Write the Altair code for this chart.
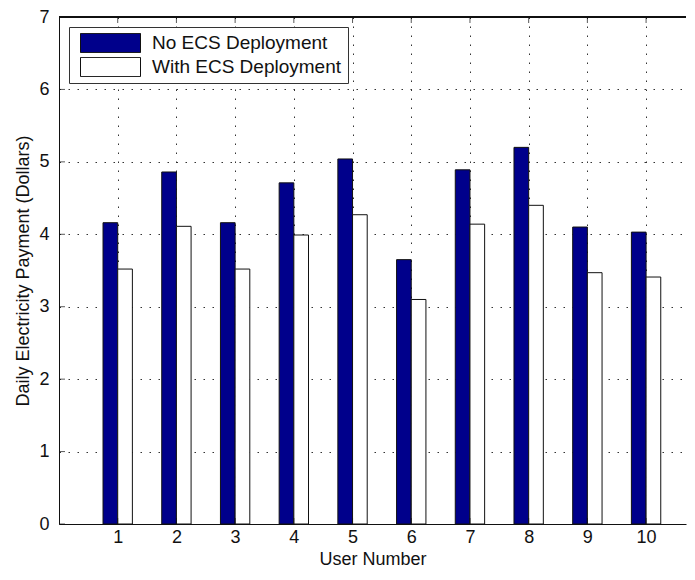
import altair as alt
import pandas as pd

users = [1, 2, 3, 4, 5, 6, 7, 8, 9, 10]
no_ecs = [4.16, 4.86, 4.16, 4.71, 5.04, 3.65, 4.89, 5.20, 4.10, 4.03]
with_ecs = [3.52, 4.11, 3.52, 3.99, 4.27, 3.10, 4.14, 4.40, 3.47, 3.41]
series_names = ["No ECS Deployment", "With ECS Deployment"]
y_ticks = [0, 1, 2, 3, 4, 5, 6, 7]

rows = []
for u, a, b in zip(users, no_ecs, with_ecs):
    rows.append({"user": u, "series": series_names[0], "value": a})
    rows.append({"user": u, "series": series_names[1], "value": b})
df = pd.DataFrame(rows)

FONT = "Liberation Sans"
BAR_W = 0.25
xscale = alt.Scale(domain=[0, 10.68], nice=False, zero=False)
yscale = alt.Scale(domain=[0, 7], nice=False)

bars = alt.Chart(df).mark_bar(stroke="#111", strokeWidth=1).transform_calculate(
    x0=f"datum.user + (datum.series == '{series_names[0]}' ? -{BAR_W} : 0)",
    x1=f"datum.user + (datum.series == '{series_names[0]}' ? 0 : {BAR_W})",
).encode(
    x=alt.X("x0:Q", scale=xscale, axis=alt.Axis(
        values=users, title="User Number", grid=True, ticks=False, tickSize=0,
        labelPadding=4, titlePadding=4, format="d")),
    x2="x1:Q",
    y=alt.Y("value:Q", scale=yscale, axis=alt.Axis(
        values=y_ticks, title="Daily Electricity Payment (Dollars)", grid=True,
        ticks=False, tickSize=0, labelPadding=10, titlePadding=6, format="d")),
    y2=alt.datum(0),
    fill=alt.Fill("series:N", scale=alt.Scale(domain=series_names, range=["#00008B", "#FFFFFF"]),
                  legend=alt.Legend(
                      title=None, orient="none", legendX=10, legendY=10,
                      symbolType="M-1,-0.32H1V0.32H-1Z", symbolSize=3600,
                      symbolStrokeColor="#111", symbolStrokeWidth=1,
                      labelFont=FONT, labelFontSize=19, labelColor="#111",
                      labelLimit=400, padding=6, symbolOffset=5, labelOffset=11,
                      clipHeight=20, rowPadding=4, strokeColor="#333", fillColor="#FFFFFF")),
)

tick_df_y = pd.DataFrame({"v": y_ticks})
tick_df_x = pd.DataFrame({"u": users})

left_ticks = alt.Chart(tick_df_y).mark_tick(orient="horizontal", size=6, thickness=1, color="#111", xOffset=3).encode(
    x=alt.datum(0, scale=xscale), y=alt.Y("v:Q", scale=yscale))
top_ticks = alt.Chart(tick_df_x).mark_tick(orient="vertical", size=6, thickness=1, color="#111", yOffset=3).encode(
    x=alt.X("u:Q", scale=xscale), y=alt.datum(7, scale=yscale))
bottom_ticks = alt.Chart(tick_df_x).mark_tick(orient="vertical", size=6, thickness=1, color="#111", yOffset=-3).encode(
    x=alt.X("u:Q", scale=xscale), y=alt.datum(0, scale=yscale))
top_border = alt.Chart(tick_df_y).mark_rule(color="#111", strokeWidth=1).encode(
    y=alt.datum(7, scale=yscale))

chart = alt.layer(bars, left_ticks, top_ticks, bottom_ticks, top_border).properties(
    width=627, height=507,
    padding={"left": 6, "top": 0, "right": 0, "bottom": 0},
).configure_view(stroke=None).configure_axis(
    labelFont=FONT, labelFontSize=18, labelColor="#111",
    titleFont=FONT, titleFontSize=18, titleFontWeight="normal", titleColor="#111",
    domainColor="#111", domainWidth=1,
    gridColor="#333", gridDash=[1.5, 7.5], gridWidth=1, gridOpacity=1,
)

chart.save("out.html", embed_options={"renderer": "svg", "actions": False})
